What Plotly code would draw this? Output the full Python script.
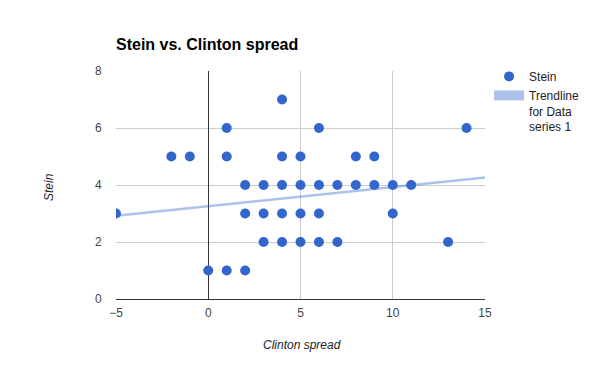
import plotly.graph_objects as go

# Data
clinton_spread = [4,
                  1, 6, 14,
                  -2, -1, 1, 4, 5, 8, 9,
                  2, 3, 4, 5, 6, 7, 8, 9, 10, 11,
                  -5, 2, 3, 4, 5, 6, 10,
                  3, 4, 5, 6, 7, 13,
                  0, 1, 2]
stein = [7,
         6, 6, 6,
         5, 5, 5, 5, 5, 5, 5,
         4, 4, 4, 4, 4, 4, 4, 4, 4, 4,
         3, 3, 3, 3, 3, 3, 3,
         2, 2, 2, 2, 2, 2,
         1, 1, 1]
trend_slope = 0.067
trend_intercept = 3.255
x_range = [-5, 15]
y_range = [0, 8]
x_ticks = [-5, 0, 5, 10, 15]
y_ticks = [0, 2, 4, 6, 8]
trend_y = [trend_intercept + trend_slope * v for v in x_range]

trend_color = "rgba(51,102,204,0.4)"
W, H = 592, 363  # page body has an 8px margin

fig = go.Figure()
fig.add_trace(go.Scatter(
    x=x_range, y=trend_y, mode="lines",
    line=dict(color=trend_color, width=2.5),
    showlegend=False, hoverinfo="skip"))
fig.add_trace(go.Scatter(
    x=clinton_spread, y=stein, mode="markers", name="Stein",
    marker=dict(color="#3366cc", size=10)))
fig.add_trace(go.Scatter(
    x=[None], y=[None], mode="lines", name="Trendline<br>for Data<br>series 1",
    line=dict(color=trend_color, width=11)))

fig.update_layout(
    width=W, height=H,
    margin=dict(l=108, r=115, t=63, b=72, autoexpand=False),
    paper_bgcolor="white", plot_bgcolor="white",
    font=dict(family="Liberation Sans, Arial", size=12, color="#222"),
    title=dict(text="<b>Stein vs. Clinton spread</b>", x=108/W, xanchor="left",
               y=1-36/H, yanchor="middle", font=dict(size=16, color="#000")),
    xaxis=dict(range=x_range, tickvals=x_ticks, showgrid=True, automargin=False,
               gridcolor="#cccccc", gridwidth=1, zeroline=True, zerolinecolor="#333",
               zerolinewidth=1, showline=True, linecolor="#333", linewidth=1,
               ticks="outside", ticklen=3, tickcolor="rgba(0,0,0,0)",
               tickfont=dict(size=12, color="#444")),
    yaxis=dict(range=y_range, tickvals=y_ticks, showgrid=True, automargin=False,
               gridcolor="#cccccc", gridwidth=1, zeroline=False,
               ticks="outside", ticklen=11, tickcolor="rgba(0,0,0,0)",
               tickfont=dict(size=12, color="#444")),
    legend=dict(x=1.011, xanchor="left", y=1.039, yanchor="top",
                font=dict(size=12, color="#222"), itemwidth=30, valign="top",
                tracegroupgap=4, bgcolor="rgba(0,0,0,0)"),
    showlegend=True,
    annotations=[
        dict(text="<i>Clinton spread</i>", xref="paper", yref="paper",
             x=0.504, y=-46/228, xanchor="center", yanchor="middle",
             showarrow=False, font=dict(size=12, color="#222")),
        dict(text="<i>Stein</i>", xref="paper", yref="paper",
             x=-67/369, y=112/228, xanchor="center", yanchor="middle",
             textangle=-90, showarrow=False, font=dict(size=12, color="#222")),
    ],
)

fig.write_html("out.html")
